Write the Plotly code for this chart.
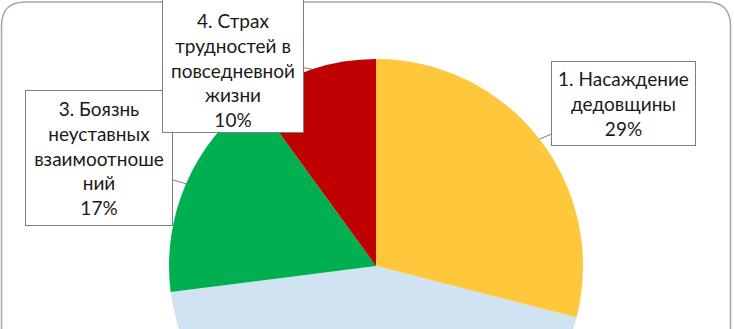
import math
import plotly.graph_objects as go

# ---- data ----
categories = ["1. Насаждение дедовщины", "2.", "3. Боязнь неуставных взаимоотношений",
              "4. Страх трудностей в повседневной жизни"]
values = [29, 44, 17, 10]
box_text = ["1. Насаждение<br>дедовщины", None, "3. Боязнь<br>неуставных<br>взаимоотноше<br>ний",
            "4. Страх<br>трудностей в<br>повседневной<br>жизни"]
colors = ["#FEC73C", "#CFE3F3", "#00AF50", "#BF0000"]

# ---- layout geometry (pixels) ----
W, H = 734, 480
cx, cy, r = 376, 266, 207

fig = go.Figure(go.Pie(
    labels=categories, values=values, sort=False, direction="clockwise", rotation=0,
    marker=dict(colors=colors, line=dict(width=0)), textinfo="none", hoverinfo="label+percent",
    domain=dict(x=[(cx - r) / W, (cx + r) / W], y=[1 - (cy + r) / H, 1 - (cy - r) / H]),
    showlegend=False,
))

# box centres / sizes (pixels), per slice
boxes = {0: (623.5, 103.5, 141, 81, "middle"),
         2: (99, 158, 144, 132, "middle"),
         3: (233, 56, 138, 150, "bottom")}

total = sum(values)
cum = 0
for i, v in enumerate(values):
    mid = (cum + v / 2) / total * 2 * math.pi
    cum += v
    if i not in boxes:
        continue
    tx = cx + r * math.sin(mid)
    ty = cy - r * math.cos(mid)
    bx, by, bw, bh, va = boxes[i]
    pct = f"{round(v / total * 100)}%"
    fig.add_annotation(
        x=tx / W, y=1 - ty / H, xref="paper", yref="paper",
        ax=bx - tx, ay=by - ty, axref="pixel", ayref="pixel",
        text=f"{box_text[i]}<br>{pct}", showarrow=True, arrowhead=0, arrowwidth=1,
        arrowcolor="#7F7F7F", width=bw, height=bh, valign=va, align="center",
        bgcolor="white", bordercolor="#7F7F7F", borderwidth=1, borderpad=1,
        font=dict(family="Lato", size=19, color="#1A1A1A"),
    )

# rounded frame
def px(x):
    return x / W

def py(y):
    return 1 - y / H

L, T, R, B, rad = 1.5, 2, 730.5, 470, 24
path = (f"M {px(L)},{py(B)} L {px(L)},{py(T + rad)} Q {px(L)},{py(T)} {px(L + rad)},{py(T)} "
        f"L {px(R - rad)},{py(T)} Q {px(R)},{py(T)} {px(R)},{py(T + rad)} L {px(R)},{py(B)}")
fig.add_shape(type="path", path=path, xref="paper", yref="paper",
              line=dict(color="#A6A6A6", width=1.5), layer="below")

fig.update_layout(width=W, height=H, margin=dict(l=0, r=0, t=0, b=0),
                  paper_bgcolor="white", plot_bgcolor="white")

fig.write_html("out.html", config={"displayModeBar": False},
               post_script="document.body.style.margin='0';document.body.style.overflow='hidden';")
